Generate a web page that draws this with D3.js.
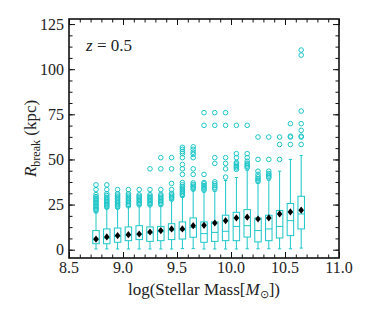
<!DOCTYPE html>
<html>
<head>
  <script src="https://cdnjs.cloudflare.com/ajax/libs/d3/7.8.5/d3.min.js"></script>
  <style>
    body { margin: 0; background: #fff; }
    svg text { font-family: "Liberation Serif", serif; fill: #222; }
  </style>
</head>
<body>
  <svg id="chart" width="374" height="320" font-family="Liberation Serif"></svg>
  <script>

// stellar mass bin centres
var massBins = [8.75, 8.85, 8.95, 9.05, 9.15, 9.25, 9.35, 9.45, 9.55, 9.65,
                9.75, 9.85, 9.95, 10.05, 10.15, 10.25, 10.35, 10.45, 10.55, 10.65];

// box statistics for R_break (kpc)
var whiskerLow  = [0.4, 0.4, 0.4, 0.4, 0.4, 0.4, 0.4, 0.4, 0.6, 0.6, 0.4, 0.4, 0.4, 0.4, 0.5, 0.5, 0.5, 0.5, 0.5, 0.9];
var q1          = [3.3, 3.3, 4.1, 5.0, 5.6, 4.6, 5.0, 5.6, 5.9, 6.9, 4.1, 4.6, 5.0, 5.0, 7.0, 4.3, 5.0, 6.5, 7.8, 11.5];
var medians     = [5.5, 6.5, 7.3, 7.9, 8.3, 9.2, 10.0, 10.8, 10.9, 12.4, 8.9, 9.6, 10.2, 12.9, 13.3, 10.6, 11.5, 12.9, 16.1, 19.8];
var q3          = [10.6, 11.5, 12.0, 12.6, 13.3, 12.6, 12.9, 14.4, 15.4, 17.6, 15.4, 15.4, 19.1, 20.7, 22.2, 17.6, 19.1, 21.7, 25.6, 29.6];
var whiskerHigh = [20.5, 23, 23, 24, 24.5, 24.5, 24.5, 27.5, 29.5, 33, 32, 32.5, 38.3, 40, 44, 37, 38.5, 43.5, 50, 52.2];
var means       = [5.9, 7.1, 7.8, 8.3, 8.7, 9.8, 10.6, 11.5, 11.5, 13.3, 13.5, 14.8, 16.1, 17.6, 18.0, 17.0, 17.6, 19.8, 20.9, 21.9];

var outliers = [
  [21.5, 22.3, 23, 23.8, 24.6, 25.4, 26.2, 27, 27.8, 28.6, 29.4, 30.5, 33.3, 35.9],
  [23.5, 24.3, 25, 25.8, 26.6, 27.4, 28.2, 29, 30, 31, 33.3, 35.9],
  [23.5, 24.3, 25.1, 26, 26.8, 27.6, 28.4, 29.3, 30.2, 31, 33.3],
  [24.3, 25.1, 26, 26.8, 27.6, 28.4, 29.3, 30.2, 31, 33.3],
  [24.8, 25.6, 26.4, 27.2, 28, 28.8, 29.6, 30.4, 33.3],
  [24.8, 25.6, 26.4, 27.2, 28, 28.8, 29.6, 30.5, 33.3, 44.8],
  [25, 25.8, 26.6, 27.4, 28.2, 29, 29.8, 30.6, 33.3, 44.8, 51],
  [28, 28.8, 29.6, 30.4, 31.2, 33.3, 36.7, 44.8, 51],
  [30, 30.8, 31.6, 32.4, 33.3, 34.2, 35, 36, 37.2, 41.7, 44.8, 47.2, 51, 53.3, 54.4, 55.6, 56.7],
  [33.5, 34.4, 35.2, 36.1, 37, 41.7, 44.8, 51, 52.8, 54, 55.6, 57],
  [33, 33.8, 34.6, 35.5, 36.5, 37.2, 41.7, 68.9, 75.9],
  [33.5, 34.5, 35.5, 36.5, 37.6, 47.8, 51, 68.9, 75.9],
  [40.2, 44.8, 47.8, 51, 68.9, 75.9],
  [44.5, 45.3, 46, 46.8, 47.6, 48.3, 51, 53.2, 68.9],
  [45.4, 46.2, 47, 47.8, 49, 51, 53.2, 68.9],
  [37.8, 38.6, 39.4, 40.4, 41.7, 43.5, 50, 62.4],
  [39.8, 40.6, 41.4, 42.2, 43.5, 50, 62.4],
  [50, 58.3, 62.4],
  [58.3, 62.4, 62.9, 69.8],
  [58.3, 62.4, 62.9, 66.1, 69.8, 76.8, 107.8, 110.6]
];

var xTicks = [8.5, 9.0, 9.5, 10.0, 10.5, 11.0];
var yTicks = [0, 25, 50, 75, 100, 125];

var color = "#1cc6c8";
var margin = {left: 69, right: 35, top: 19, bottom: 62};
var width = 374 - margin.left - margin.right;
var height = 320 - margin.top - margin.bottom;

var svg = d3.select("#chart");
var g = svg.append("g").attr("transform", "translate(" + margin.left + "," + margin.top + ")");

var x = d3.scaleLinear().domain([8.5, 11.0]).range([0, width]);
var y = d3.scaleLinear().domain([-4.6, 127.8]).range([height, 0]);

var boxW = x(8.56) - x(8.5);
var capW = boxW / 2;

var boxes = massBins.map(function(m, i) {
  return {m: m, lo: whiskerLow[i], q1: q1[i], med: medians[i], q3: q3[i],
          hi: whiskerHigh[i], mean: means[i], out: outliers[i]};
});

var bg = g.selectAll(".box").data(boxes).enter().append("g").attr("class", "box");

// whiskers
bg.append("line")
  .attr("x1", d => x(d.m)).attr("x2", d => x(d.m))
  .attr("y1", d => y(d.lo)).attr("y2", d => y(d.q1))
  .attr("stroke", color).attr("stroke-width", 1);
bg.append("line")
  .attr("x1", d => x(d.m)).attr("x2", d => x(d.m))
  .attr("y1", d => y(d.q3)).attr("y2", d => y(d.hi))
  .attr("stroke", color).attr("stroke-width", 1);
// caps
["lo", "hi"].forEach(function(k) {
  bg.append("line")
    .attr("x1", d => x(d.m) - capW / 2).attr("x2", d => x(d.m) + capW / 2)
    .attr("y1", d => y(d[k])).attr("y2", d => y(d[k]))
    .attr("stroke", color).attr("stroke-width", 1);
});
// box
bg.append("rect")
  .attr("x", d => x(d.m) - boxW / 2).attr("width", boxW)
  .attr("y", d => y(d.q3)).attr("height", d => y(d.q1) - y(d.q3))
  .attr("fill", "none").attr("stroke", color).attr("stroke-width", 1);
// median
bg.append("line")
  .attr("x1", d => x(d.m) - boxW / 2).attr("x2", d => x(d.m) + boxW / 2)
  .attr("y1", d => y(d.med)).attr("y2", d => y(d.med))
  .attr("stroke", color).attr("stroke-width", 1);
// outliers
bg.selectAll("circle").data(d => d.out.map(v => ({m: d.m, v: v}))).enter()
  .append("circle")
  .attr("cx", d => x(d.m)).attr("cy", d => y(d.v)).attr("r", 2.3)
  .attr("fill", "none").attr("stroke", color).attr("stroke-width", 1);
// means
bg.append("path")
  .attr("d", d => {
    var cx = x(d.m), cy = y(d.mean);
    return "M" + cx + "," + (cy - 3.6) + "L" + (cx + 2.8) + "," + cy + "L" + cx + "," + (cy + 3.6) + "L" + (cx - 2.8) + "," + cy + "Z";
  })
  .attr("fill", "#000");

// axes with inward ticks on all sides
var xMinor = d3.range(8.5, 11.0001, 0.1);
var yMinor = d3.range(0, 127.8, 6.25);

function tickAxis(axisFn, scale, values, size) {
  return axisFn(scale).tickValues(values).tickSize(size).tickFormat("");
}
var axes = [
  [d3.axisBottom, x, xMinor, -3.5, "translate(0," + height + ")"],
  [d3.axisBottom, x, xTicks, -6, "translate(0," + height + ")"],
  [d3.axisTop, x, xMinor, -3.5, "translate(0,0)"],
  [d3.axisTop, x, xTicks, -6, "translate(0,0)"],
  [d3.axisLeft, y, yMinor, -3.5, "translate(0,0)"],
  [d3.axisLeft, y, yTicks, -6, "translate(0,0)"],
  [d3.axisRight, y, yMinor, -3.5, "translate(" + width + ",0)"],
  [d3.axisRight, y, yTicks, -6, "translate(" + width + ",0)"]
];
axes.forEach(function(a) {
  var ax = g.append("g").attr("transform", a[4]).call(tickAxis(a[0], a[1], a[2], a[3]));
  ax.select(".domain").remove();
  ax.selectAll("line").attr("stroke", "#111").attr("stroke-width", 1);
});

g.append("rect").attr("width", width).attr("height", height)
  .attr("fill", "none").attr("stroke", "#111").attr("stroke-width", 1.6);

// tick labels
g.selectAll(".xl").data(xTicks).enter().append("text")
  .attr("x", d => x(d)).attr("y", height + 15)
  .attr("text-anchor", "middle").attr("font-size", 16)
  .text(d => d.toFixed(1));
g.selectAll(".yl").data(yTicks).enter().append("text")
  .attr("x", -5).attr("y", d => y(d) + 5.5)
  .attr("text-anchor", "end").attr("font-size", 16)
  .text(d => d);

// x label
var xl = g.append("text").attr("x", width / 2).attr("y", height + 37)
  .attr("text-anchor", "middle").attr("font-size", 17);
xl.append("tspan").text("log(Stellar Mass[");
xl.append("tspan").attr("font-style", "italic").text("M");
xl.append("tspan").attr("font-size", 11).attr("dy", 3).text("\u2299");
xl.append("tspan").attr("dy", -3).text("])");

// y label
var yl = svg.append("text")
  .attr("transform", "translate(36," + (margin.top + height / 2) + ") rotate(-90)")
  .attr("text-anchor", "middle").attr("font-size", 17);
yl.append("tspan").attr("font-style", "italic").text("R");
yl.append("tspan").attr("font-size", 12).attr("dy", 4).text("break");
yl.append("tspan").attr("dy", -4).text(" (kpc)");

// redshift annotation
var zt = g.append("text").attr("x", 17).attr("y", 32).attr("font-size", 17);
zt.append("tspan").attr("font-style", "italic").text("z");
zt.append("tspan").text(" = 0.5");
  </script>
</body>
</html>
